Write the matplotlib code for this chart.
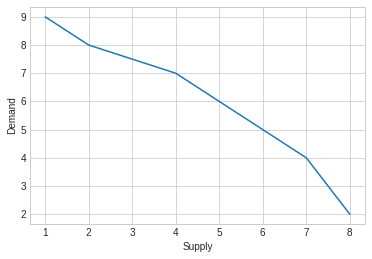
import matplotlib
matplotlib.use("Agg")
import matplotlib.pyplot as plt

supply = [1, 2, 3, 4, 5, 6, 7, 8]
demand = [9, 8, 7.5, 7, 6, 5, 4, 2]

plt.style.use('seaborn-v0_8-whitegrid')
plt.rcParams['font.family'] = ['Liberation Sans', 'DejaVu Sans']

fig = plt.figure(figsize=(372/72, 259/72), dpi=72)
ax = fig.add_axes([30/372, 35/259, 335/372, 217/259])
ax.plot(supply, demand)
ax.set_xlabel('Supply', labelpad=5)
ax.set_ylabel('Demand')
fig.savefig('out.png', dpi=72)
